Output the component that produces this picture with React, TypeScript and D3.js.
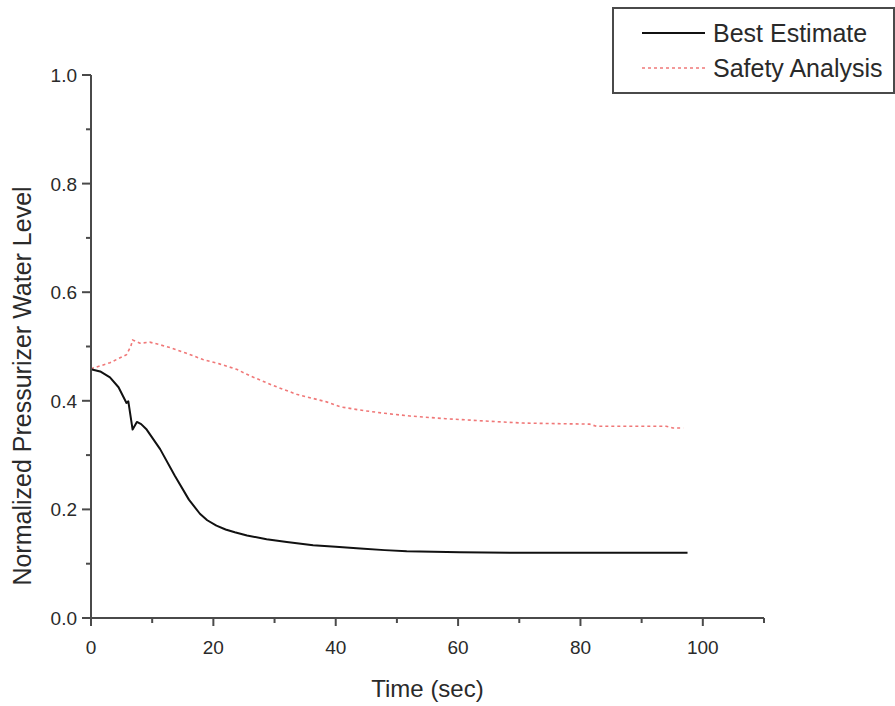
import React from "react";
import * as d3 from "d3";

const timeBest = [0, 1.5, 3.1, 4.5, 5.8, 6.1, 6.8, 7.5, 8.2, 9.1, 11.3, 13.7, 16, 17.8, 19, 20.5, 22, 23.5, 25.5, 28.7, 32, 36.3, 40, 44, 48, 51.6, 56, 60.3, 70, 80, 90, 97.5];
const bestEstimate = [0.458, 0.454, 0.443, 0.425, 0.396, 0.399, 0.347, 0.361, 0.357, 0.347, 0.311, 0.262, 0.218, 0.192, 0.18, 0.17, 0.163, 0.158, 0.152, 0.145, 0.14, 0.134, 0.131, 0.128, 0.125, 0.123, 0.122, 0.121, 0.12, 0.12, 0.12, 0.12];

const timeSafety = [0, 3.1, 5.8, 6.5, 6.8, 8, 9.6, 11, 12.9, 15.5, 18.3, 21, 23.8, 26, 29.8, 33.6, 38.5, 40.7, 44.5, 48, 52.1, 58, 64.1, 70.6, 76, 81.5, 82.6, 88, 94, 95.1, 96.8];
const safetyAnalysis = [0.459, 0.47, 0.485, 0.5, 0.512, 0.506, 0.508, 0.504, 0.498, 0.488, 0.476, 0.468, 0.458, 0.446, 0.428, 0.412, 0.398, 0.389, 0.382, 0.377, 0.372, 0.367, 0.363, 0.359, 0.358, 0.357, 0.353, 0.353, 0.353, 0.35, 0.35];

const xMajorTicks = [0, 20, 40, 60, 80, 100];
const xMinorTicks = [10, 30, 50, 70, 90, 110];
const yMajorTicks = [0, 0.2, 0.4, 0.6, 0.8, 1.0];
const yMinorTicks = [0.1, 0.3, 0.5, 0.7, 0.9];

const legendLabels = ["Best Estimate", "Safety Analysis"];

export default function App() {
  const W = 895, H = 706;
  const x = d3.scaleLinear().domain([0, 110]).range([91, 764]);
  const y = d3.scaleLinear().domain([0, 1]).range([618, 75]);
  const axisColor = "#4a4a4a";
  const textColor = "#2a2a2a";
  const font = "'Liberation Sans', Arial, sans-serif";

  const lineGen = d3.line<[number, number]>().x(d => x(d[0])).y(d => y(d[1]));
  const bestPts = timeBest.map((t, i) => [t, bestEstimate[i]] as [number, number]);
  const safePts = timeSafety.map((t, i) => [t, safetyAnalysis[i]] as [number, number]);

  const x0 = x(0), y0 = y(0);

  return (
    <svg width={W} height={H} style={{ position: "absolute", left: 0, top: 0, background: "#fff" }} fontFamily={font}>
      <rect x={0} y={0} width={W} height={H} fill="#fff" />
      {/* data */}
      <path d={lineGen(safePts) || ""} fill="none" stroke="#f07878" strokeWidth={1.6} strokeDasharray="3,3" />
      <path d={lineGen(bestPts) || ""} fill="none" stroke="#111" strokeWidth={2} strokeLinejoin="round" />

      {/* axes */}
      <line x1={x0} x2={x(110)} y1={y0} y2={y0} stroke={axisColor} strokeWidth={2} />
      <line x1={x0} x2={x0} y1={y0} y2={y(1)} stroke={axisColor} strokeWidth={2} />
      {xMajorTicks.map(t => (
        <g key={"xm" + t}>
          <line x1={x(t)} x2={x(t)} y1={y0} y2={y0 + 8} stroke={axisColor} strokeWidth={2} />
          <text x={x(t)} y={y0 + 36} textAnchor="middle" fontSize={19} fill={textColor}>{t}</text>
        </g>
      ))}
      {xMinorTicks.map(t => (
        <line key={"xn" + t} x1={x(t)} x2={x(t)} y1={y0} y2={y0 + 5} stroke={axisColor} strokeWidth={2} />
      ))}
      {yMajorTicks.map(t => (
        <g key={"ym" + t}>
          <line x1={x0 - 9} x2={x0} y1={y(t)} y2={y(t)} stroke={axisColor} strokeWidth={2} />
          <text x={x0 - 14} y={y(t) + 7} textAnchor="end" fontSize={19} fill={textColor}>{t.toFixed(1)}</text>
        </g>
      ))}
      {yMinorTicks.map(t => (
        <line key={"yn" + t} x1={x0 - 5} x2={x0} y1={y(t)} y2={y(t)} stroke={axisColor} strokeWidth={2} />
      ))}

      {/* axis titles */}
      <text x={(x(0) + x(110)) / 2} y={697} textAnchor="middle" fontSize={24} fill={textColor}>Time (sec)</text>
      <text transform={`translate(31, 386) rotate(-90)`} textAnchor="middle" fontSize={25} fill={textColor}>Normalized Pressurizer Water Level</text>

      {/* legend */}
      <rect x={613} y={8} width={281} height={85} fill="#fff" stroke={axisColor} strokeWidth={2} />
      <line x1={642} x2={705} y1={33} y2={33} stroke="#111" strokeWidth={2} />
      <line x1={642} x2={705} y1={68} y2={68} stroke="#f07878" strokeWidth={1.6} strokeDasharray="3,3" />
      <text x={713} y={42} fontSize={25} fill={textColor}>{legendLabels[0]}</text>
      <text x={713} y={77} fontSize={25} fill={textColor}>{legendLabels[1]}</text>
    </svg>
  );
}
